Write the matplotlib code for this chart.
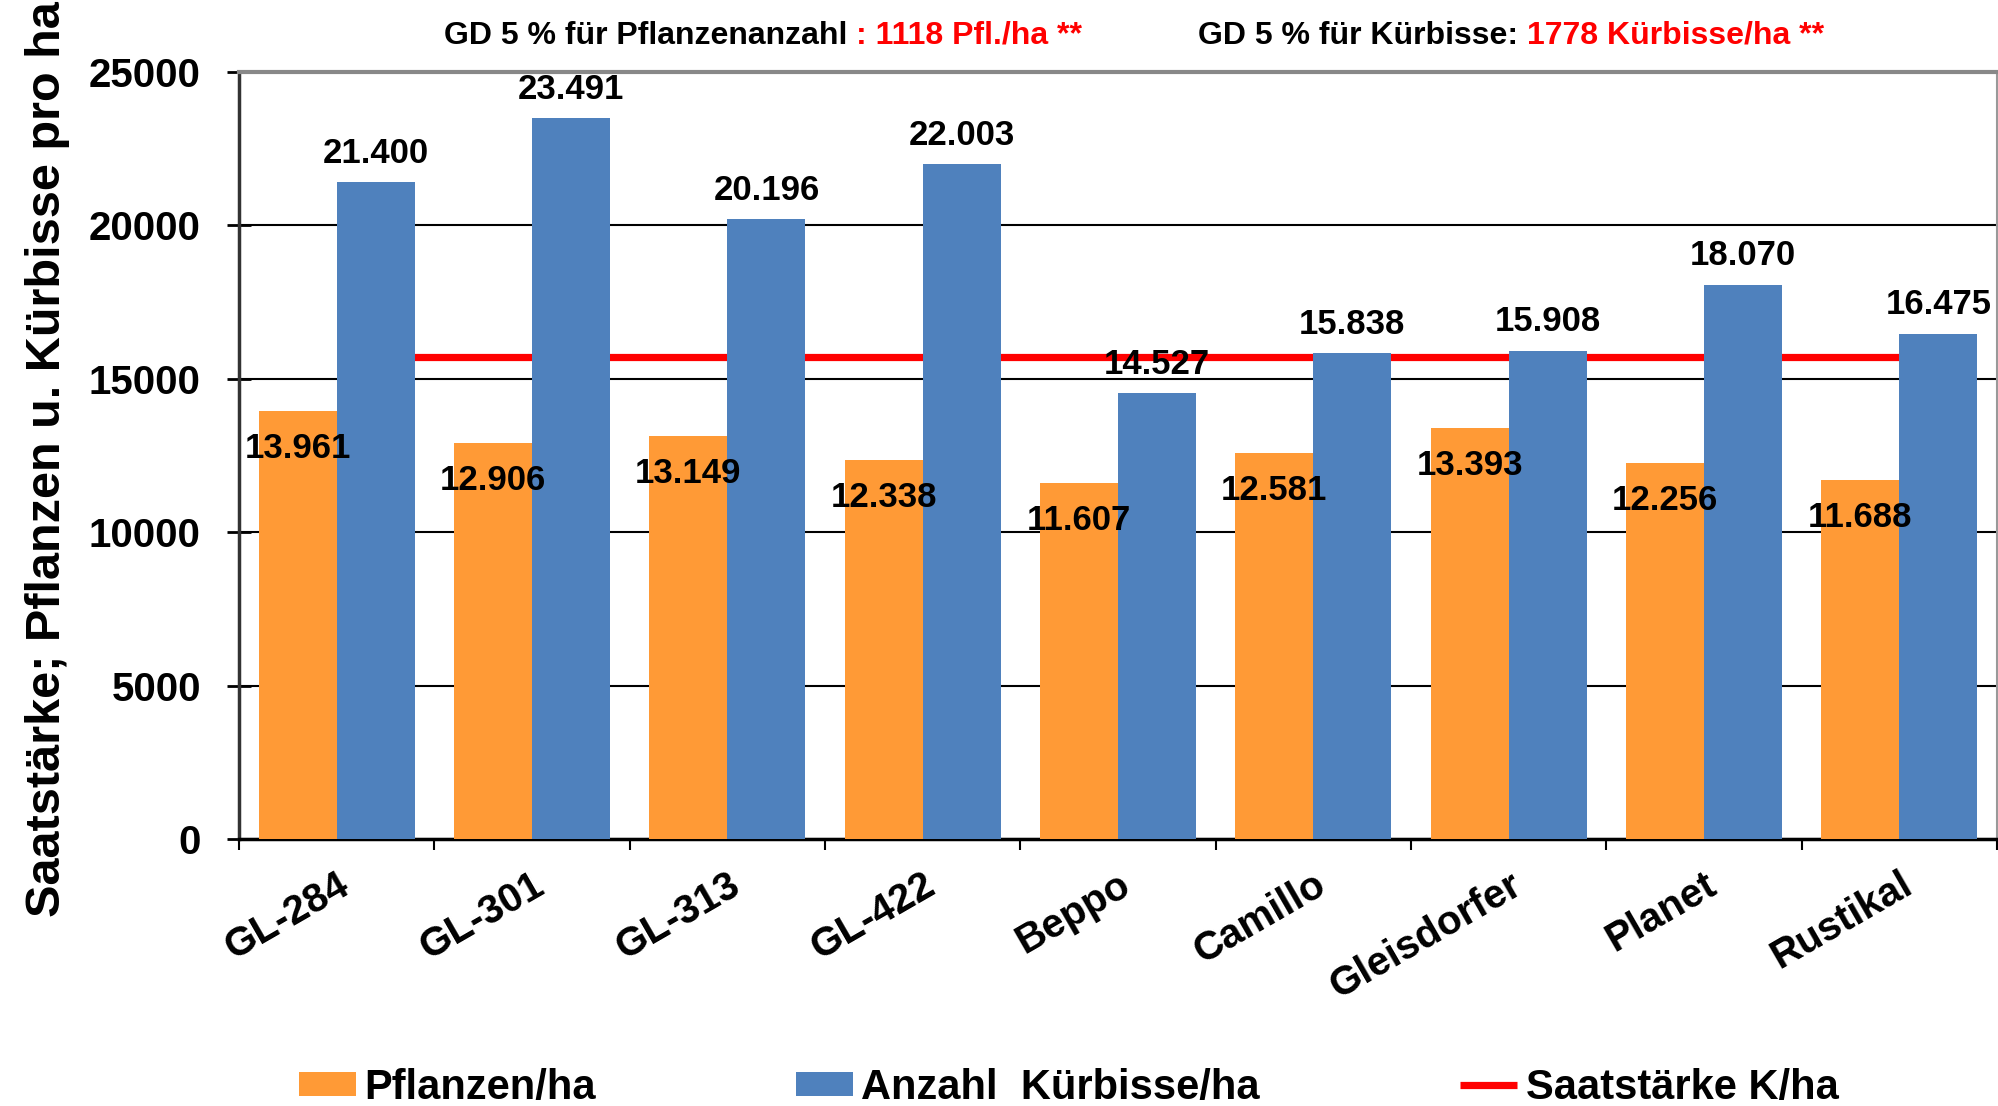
import matplotlib
matplotlib.use("Agg")
import matplotlib.pyplot as plt
from matplotlib.transforms import ScaledTranslation
import numpy as np

# Sorten und Werte
sorten = ["GL-284", "GL-301", "GL-313", "GL-422", "Beppo", "Camillo",
          "Gleisdorfer", "Planet", "Rustikal"]
pflanzen = [13961, 12906, 13149, 12338, 11607, 12581, 13393, 12256, 11688]
kuerbisse = [21400, 23491, 20196, 22003, 14527, 15838, 15908, 18070, 16475]
saatstaerke = [15700, 15700, 15700, 15700, 15700, 15700, 15700, 15700, 15700]

gd_pfl = "1118 Pfl./ha **"
gd_kue = "1778 Kürbisse/ha **"

ORANGE = "#FF9A36"
BLUE = "#4F81BD"
RED = "#FF0000"

plt.rcParams["font.family"] = ["Liberation Sans", "DejaVu Sans"]
plt.rcParams["font.weight"] = "bold"


def fmt(v):
    return f"{v:,}".replace(",", ".")


fig = plt.figure(figsize=(19.98, 11.06), dpi=100)
ax = fig.add_axes([239 / 1998, 267 / 1106, 1758 / 1998, 767 / 1106])

x = np.arange(len(sorten))
w = 0.4
b1 = ax.bar(x - w / 2, pflanzen, w, color=ORANGE, zorder=3, label="Pflanzen/ha")
b2 = ax.bar(x + w / 2, kuerbisse, w, color=BLUE, zorder=3, label="Anzahl  Kürbisse/ha")
ln, = ax.plot(x, saatstaerke, color=RED, lw=5.2, zorder=2, label="Saatstärke K/ha",
              solid_capstyle="butt")

for xi, v in zip(x, pflanzen):
    ax.annotate(fmt(v), (xi - w / 2, v), xytext=(0, -27), textcoords="offset points",
                ha="center", va="center", fontsize=25, fontweight="bold", zorder=5)
for xi, v in zip(x, kuerbisse):
    ax.annotate(fmt(v), (xi + w / 2, v), xytext=(0, 14), textcoords="offset points",
                ha="center", va="baseline", fontsize=25, fontweight="bold", zorder=5,
                annotation_clip=False)

ax.set_xlim(-0.5, len(sorten) - 0.5)
ax.set_ylim(0, 25000)
ax.set_yticks(np.arange(0, 25001, 5000))
ax.yaxis.grid(True, color="black", lw=1.5, zorder=1)
ax.set_axisbelow(True)

ax.set_xticks(np.arange(-0.5, len(sorten), 1.0))
ax.set_xticklabels([])
ax.set_xticks(x, minor=True)
ax.set_xticklabels(sorten, minor=True, rotation=30, ha="right", va="top",
                   rotation_mode="anchor", fontsize=29, fontweight="bold")
shift = ScaledTranslation(6 / 100, 0, fig.dpi_scale_trans)
for t in ax.get_xticklabels(minor=True):
    t.set_transform(t.get_transform() + shift)
ax.tick_params(axis="x", which="major", length=8, width=1.5, direction="out")
ax.tick_params(axis="x", which="minor", length=0, pad=19)
ax.tick_params(axis="y", length=17, width=2, direction="inout", pad=19, labelsize=29)
for t in ax.get_yticklabels():
    t.set_fontweight("bold")

ax.spines["left"].set_color("#333333")
ax.spines["left"].set_linewidth(2.5)
ax.spines["bottom"].set_color("black")
ax.spines["bottom"].set_linewidth(2.5)
ax.spines["top"].set_color("#888888")
ax.spines["top"].set_linewidth(3)
ax.spines["right"].set_color("#999999")
ax.spines["right"].set_linewidth(1.5)

ax.set_ylabel("Saatstärke; Pflanzen u. Kürbisse pro ha", fontsize=35, fontweight="bold")
ax.yaxis.set_label_coords(-0.096, 0.495)

# GD-Zeile oben
t1 = fig.text(444 / 1998, 1 - 36 / 1106, "GD 5 % für Pflanzenanzahl ", fontsize=23,
              fontweight="bold", va="center")
ax.annotate(": " + gd_pfl, xy=(1, 0), xycoords=t1, va="bottom", fontsize=23,
            fontweight="bold", color=RED)
t3 = fig.text(1198 / 1998, 1 - 36 / 1106, "GD 5 % für Kürbisse: ", fontsize=23,
              fontweight="bold", va="center")
ax.annotate(gd_kue, xy=(1, 0), xycoords=t3, va="bottom", fontsize=23,
            fontweight="bold", color=RED)

fig.legend(handles=[b1, b2, ln], loc="center left", bbox_to_anchor=(299 / 1998, 0.0165),
           ncol=3, frameon=False, handlelength=1.37, handleheight=0.53,
           handletextpad=0.2, columnspacing=4.8, borderpad=0, borderaxespad=0,
           prop={"weight": "bold", "size": 30})

fig.savefig("out.png", dpi=100)
